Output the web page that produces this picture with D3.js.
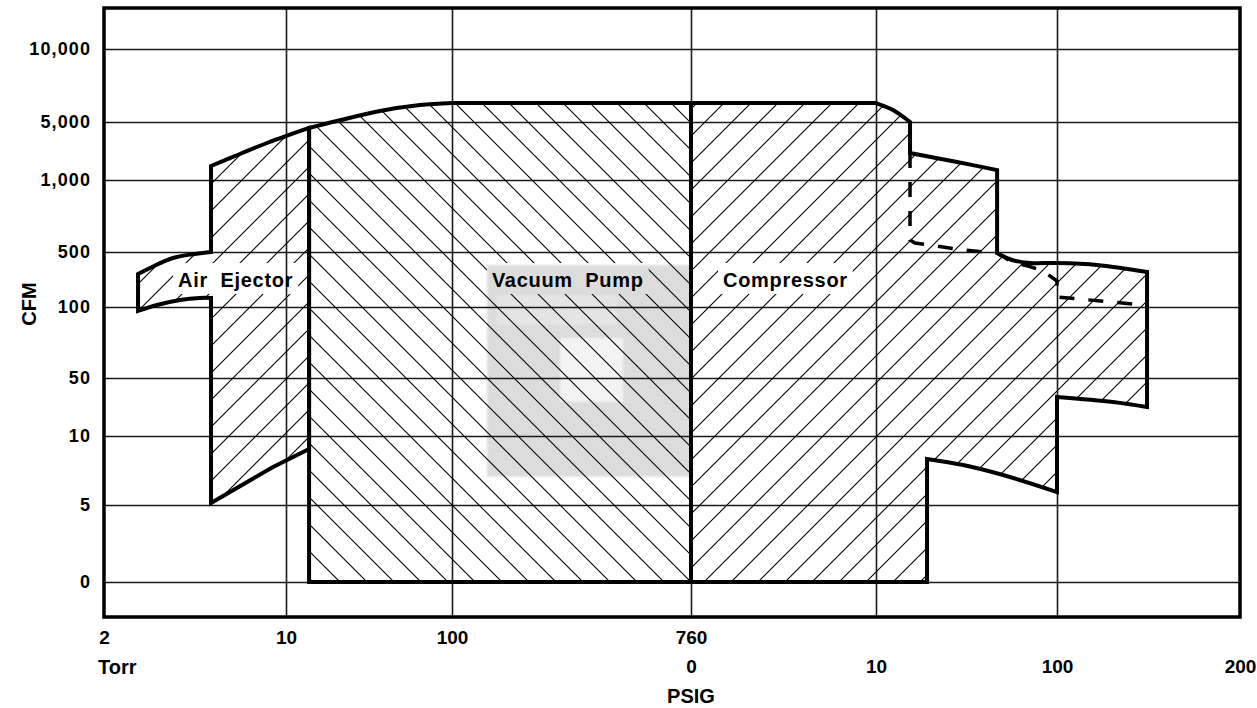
<!DOCTYPE html>
<html>
<head>
<meta charset="utf-8">
<script src="https://cdn.jsdelivr.net/npm/d3@7"></script>
<style>
  html, body { margin: 0; padding: 0; background: #fff; }
  svg { display: block; }
  svg text { font-family: "Liberation Sans", Arial, Helvetica, sans-serif; font-weight: bold; white-space: pre; fill: #000; }
</style>
</head>
<body>
<svg id="chart" width="1257" height="708"></svg>
<script>
// ---- Axis tick labels ----
// Flow rate (CFM), top row to bottom row of the grid
const cfmTicks = ["10,000", "5,000", "1,000", "500", "100", "50", "10", "5", "0"];
// Absolute pressure (Torr) on grid columns 0..3
const torrTicks = ["2", "10", "100", "760"];
// Gauge pressure (PSIG) on grid columns 3..6
const psigTicks = ["0", "10", "100", "200"];

// ---- Operating ranges, in grid units (column, row) ----
// Each range is a list of edge runs; consecutive runs share their end points.
const airEjectorEdge = [
  [[0.187, 3.400], [0.253, 3.291], [0.379, 3.109], [0.588, 3.000]],
  [[0.588, 3.000], [0.588, 1.759]],
  [[0.588, 1.759], [0.747, 1.552], [0.896, 1.362], [1.139, 1.103]],
  [[1.139, 1.103], [1.139, 6.188]],
  [[1.139, 6.188], [0.929, 6.449]],
  [[0.929, 6.449], [0.588, 6.971]],
  [[0.588, 6.971], [0.588, 3.836]],
  [[0.588, 3.836], [0.527, 3.836], [0.418, 3.873], [0.291, 3.964], [0.187, 4.056]],
  [[0.187, 4.056], [0.187, 3.400]]
];

const vacuumPumpEdge = [
  [[1.139, 1.103], [1.307, 0.986], [1.566, 0.849], [1.807, 0.767], [2.000, 0.740]],
  [[2.000, 0.740], [3.000, 0.740]],
  [[3.000, 0.740], [3.000, 8.000]],
  [[3.000, 8.000], [1.139, 8.000]],
  [[1.139, 8.000], [1.139, 1.103]]
];

const compressorEdge = [
  [[3.000, 0.740], [4.000, 0.740]],
  [[4.000, 0.740], [4.094, 0.836], [4.188, 1.000]],
  [[4.188, 1.000], [4.188, 1.534]],
  [[4.188, 1.534], [4.448, 1.690], [4.669, 1.828]],
  [[4.669, 1.828], [4.669, 3.018]],
  [[4.669, 3.018], [4.751, 3.145], [4.851, 3.200], [5.000, 3.200], [5.219, 3.236], [5.492, 3.364]],
  [[5.492, 3.364], [5.492, 5.500]],
  [[5.492, 5.500], [5.306, 5.414], [5.000, 5.328]],
  [[5.000, 5.328], [5.000, 6.812]],
  [[5.000, 6.812], [4.702, 6.565], [4.481, 6.420], [4.282, 6.333]],
  [[4.282, 6.333], [4.282, 8.000]],
  [[4.282, 8.000], [3.000, 8.000]],
  [[3.000, 8.000], [3.000, 0.740]]
];

// Dashed boundary inside the compressor range
const compressorLimit = [
  [4.188, 1.534], [4.188, 2.833], [4.215, 2.875], [4.481, 2.972], [4.669, 3.018],
  [4.751, 3.182], [4.840, 3.255], [4.923, 3.345], [5.000, 3.527], [5.000, 3.818], [5.415, 3.945]
];

const zoneNames = ["Air  Ejector", "Vacuum  Pump", "Compressor"];

// ---- Layout ----
const layout = {
  width: 1257, height: 708,
  frameTop: 8, frameBottom: 617,
  colStops: [104, 286, 452, 691, 876, 1057, 1240],
  rowStops: [49, 122, 180, 252, 307, 378, 436, 505, 582],
  zoneLabelAt: [[0.407, 3.636], [2.167, 3.636], [3.173, 3.636]],
  zoneHatch: ["url(#hatchFwd)", "url(#hatchBack)", "url(#hatchFwd)"],
  badge: [[2.147, 3.236], [3.0, 6.590]]
};

const svg = d3.select("#chart");
const x = d3.scaleLinear().domain(d3.range(layout.colStops.length)).range(layout.colStops);
const y = d3.scaleLinear().domain(d3.range(layout.rowStops.length)).range(layout.rowStops);
const left = layout.colStops[0], right = layout.colStops[layout.colStops.length - 1];

svg.append("rect").attr("width", layout.width).attr("height", layout.height).attr("fill", "#fff");

// ---- Patterns, filters ----
const defs = svg.append("defs");
const tile = 27;
defs.append("pattern")
  .attr("id", "hatchFwd").attr("patternUnits", "userSpaceOnUse")
  .attr("width", tile).attr("height", tile).attr("x", 17)
  .append("path")
  .attr("d", `M0,${tile}L${tile},0M-4,4L4,-4M${tile - 4},${tile + 4}L${tile + 4},${tile - 4}`)
  .attr("stroke", "#000").attr("stroke-width", 1.1);
defs.append("pattern")
  .attr("id", "hatchBack").attr("patternUnits", "userSpaceOnUse")
  .attr("width", tile).attr("height", tile).attr("x", 1)
  .append("path")
  .attr("d", `M0,0L${tile},${tile}M-4,${tile - 4}L4,${tile + 4}M${tile - 4},-4L${tile + 4},4`)
  .attr("stroke", "#000").attr("stroke-width", 1.1);
defs.append("filter").attr("id", "soft")
  .append("feGaussianBlur").attr("stdDeviation", 1.2);

// ---- Faint badge in the plot background ----
const badge = svg.append("g").attr("filter", "url(#soft)");
const [b0, b1] = layout.badge;
badge.append("rect")
  .attr("x", x(b0[0])).attr("y", y(b0[1]))
  .attr("width", x(b1[0]) - x(b0[0])).attr("height", y(b1[1]) - y(b0[1]))
  .attr("fill", "#dcdcdc");
badge.append("rect")
  .attr("x", x(b0[0]) + 73).attr("y", y(b0[1]) + 73)
  .attr("width", 63).attr("height", 64)
  .attr("fill", "#f3f3f3");
badge.append("rect")
  .attr("x", x(b0[0]) + 10).attr("y", y(b0[1]) + 30)
  .attr("width", 120).attr("height", 30)
  .attr("fill", "#e4e4e4");

// ---- Grid ----
const gridY = d3.axisLeft(y)
  .tickValues(d3.range(cfmTicks.length))
  .tickSize(-(right - left))
  .tickPadding(13)
  .tickFormat(i => cfmTicks[i]);
const gy = svg.append("g").attr("transform", `translate(${left},0)`).call(gridY)
  .attr("font-family", null).attr("font-size", null);
gy.select(".domain").remove();
gy.selectAll("line").attr("stroke", "#1a1a1a").attr("stroke-width", 1.6);
gy.selectAll("text")
  .style("font-size", "18px").style("letter-spacing", "1.1px");

const gridX = d3.axisBottom(x)
  .tickValues([1, 2, 3, 4, 5])
  .tickSize(-(layout.frameBottom - layout.frameTop))
  .tickFormat("");
const gx = svg.append("g").attr("transform", `translate(0,${layout.frameBottom})`).call(gridX);
gx.select(".domain").remove();
gx.selectAll("line").attr("stroke", "#1a1a1a").attr("stroke-width", 1.6);

// ---- Hatched ranges ----
const edgeRun = d3.line()
  .x(d => x(d[0])).y(d => y(d[1]))
  .curve(d3.curveCatmullRom.alpha(0.5));
function outline(runs) {
  return runs.map((r, i) => {
    const p = edgeRun(r);
    return i ? p.replace(/^M/, "L") : p;
  }).join("") + "Z";
}
const zones = [airEjectorEdge, vacuumPumpEdge, compressorEdge];

// label boxes knock the hatching out
const labels = svg.append("g").attr("class", "zone-labels");
const labelNodes = labels.selectAll("text")
  .data(zoneNames)
  .join("text")
  .attr("x", (d, i) => x(layout.zoneLabelAt[i][0]))
  .attr("y", (d, i) => y(layout.zoneLabelAt[i][1]))
  .style("font-size", "20px").style("letter-spacing", "0.7px")
  .text(d => d);

const mask = defs.append("mask").attr("id", "labelKnockout")
  .attr("maskUnits", "userSpaceOnUse")
  .attr("x", 0).attr("y", 0).attr("width", layout.width).attr("height", layout.height);
mask.append("rect").attr("width", layout.width).attr("height", layout.height).attr("fill", "#fff");
labelNodes.each(function () {
  const b = this.getBBox();
  mask.append("rect")
    .attr("x", b.x - 5).attr("y", b.y - 6)
    .attr("width", b.width + 10).attr("height", b.height + 9)
    .attr("fill", "#000");
});

const hatch = svg.insert("g", ".zone-labels").attr("mask", "url(#labelKnockout)");
hatch.selectAll("path")
  .data(zones)
  .join("path")
  .attr("d", outline)
  .attr("fill", (d, i) => layout.zoneHatch[i]);

const edges = svg.insert("g", ".zone-labels");
edges.selectAll("path")
  .data(zones)
  .join("path")
  .attr("d", outline)
  .attr("fill", "none")
  .attr("stroke", "#000")
  .attr("stroke-width", 4)
  .attr("stroke-linejoin", "miter");

edges.append("path")
  .datum(compressorLimit)
  .attr("d", d3.line().x(d => x(d[0])).y(d => y(d[1])))
  .attr("fill", "none")
  .attr("stroke", "#000")
  .attr("stroke-width", 3.5)
  .attr("stroke-dasharray", "15,14");

// ---- Frame ----
svg.append("rect")
  .attr("x", left).attr("y", layout.frameTop)
  .attr("width", right - left).attr("height", layout.frameBottom - layout.frameTop)
  .attr("fill", "none").attr("stroke", "#000").attr("stroke-width", 3.5);

// ---- Pressure axis labels ----
const torrAxis = d3.axisBottom(x)
  .tickValues(d3.range(torrTicks.length))
  .tickSize(0).tickPadding(14)
  .tickFormat(i => torrTicks[i]);
const ta = svg.append("g").attr("transform", `translate(0,${layout.frameBottom})`).call(torrAxis)
  .attr("font-family", null).attr("font-size", null);
ta.select(".domain").remove();
ta.selectAll("text").style("font-size", "19px");

const psigAxis = d3.axisBottom(x)
  .tickValues(d3.range(3, 3 + psigTicks.length))
  .tickSize(0).tickPadding(14)
  .tickFormat(i => psigTicks[i - 3]);
const pa = svg.append("g").attr("transform", `translate(0,${layout.frameBottom + 29})`).call(psigAxis)
  .attr("font-family", null).attr("font-size", null);
pa.select(".domain").remove();
pa.selectAll("text").style("font-size", "19px");

svg.append("text")
  .attr("x", x(0) - 6).attr("y", 674)
  .style("font-size", "20px")
  .text("Torr");
svg.append("text")
  .attr("x", x(3)).attr("y", 703)
  .attr("text-anchor", "middle")
  .style("font-size", "20px")
  .text("PSIG");
svg.append("text")
  .attr("transform", `translate(36,${y(4) - 3}) rotate(-90)`)
  .attr("text-anchor", "middle")
  .style("font-size", "20px")
  .text("CFM");
</script>
</body>
</html>
